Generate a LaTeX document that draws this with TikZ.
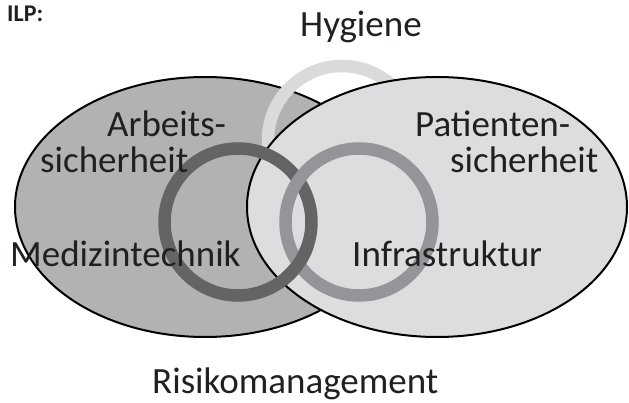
\documentclass[tikz,border=0pt]{standalone}
\usepackage{fontspec}
\setmainfont{Carlito}
\definecolor{leftfill}{HTML}{B1B2B4}
\definecolor{rightfill}{HTML}{DCDDDF}
\definecolor{hygring}{HTML}{D9DADB}
\definecolor{medring}{HTML}{636466}
\definecolor{infring}{HTML}{939598}
\definecolor{txt}{HTML}{231F20}
\tikzset{
	area/.style={draw=black, line width=2pt},
	ring/.style={line width=12.5pt},
	lbl/.style={inner sep=0pt, anchor=base west, text=txt, font=\fontsize{37}{40}\selectfont}
}
\begin{document}
\begin{tikzpicture} [x=1pt, y=-1pt]
			\useasboundingbox (0,0) rectangle (629,403);
			\coordinate (ac) at (205,207);
			\coordinate (pc) at (437,207);
			\coordinate (hy) at (342,140);
			\coordinate (mt) at (238,222);
			\coordinate (in) at (359,222);
			\fill [leftfill] (ac) ellipse [x radius=190pt, y radius=130pt];
			\draw [area] (ac) ellipse [x radius=190pt, y radius=130pt];
			\draw [ring, hygring] (hy) circle [radius=74pt];
			\draw [area, fill=rightfill] (pc) ellipse [x radius=190pt, y radius=130pt];
			\draw [ring, medring] (mt) circle [radius=73.5pt];
			\draw [ring, infring] (in) circle [radius=73.5pt];
			\begin{scope}
				\clip (282,248) rectangle (316,285);
				\draw [ring, medring] (mt) circle [radius=73.5pt];
			\end{scope}
			\node [inner sep=0pt, anchor=base west, text=txt, font=\fontsize{24}{26}\selectfont\bfseries] (ilp) at (7,22) {ILP:};
			\node [lbl] (hyg) at (300,37) {Hygiene};
			\node [lbl] (arb1) at (107,137) {Arbeits-};
			\node [lbl] (arb2) at (40,173) {sicherheit};
			\node [lbl] (pat1) at (415,137) {Patienten-};
			\node [lbl] (pat2) at (450,173) {sicherheit};
			\node [lbl] (med) at (10,267) {Medizintechnik};
			\node [lbl] (inf) at (352,267) {Infrastruktur};
			\node [lbl] (risk) at (152,393) {Risikomanagement};
			\end{tikzpicture}
\end{document}
